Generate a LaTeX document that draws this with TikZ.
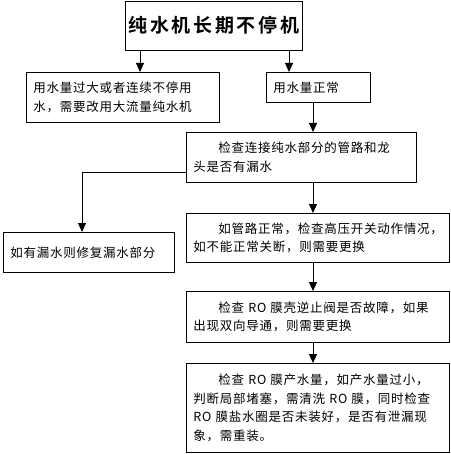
\documentclass[tikz,border=0pt]{standalone}
\usepackage{fontspec}
\usepackage{tikz}
\usetikzlibrary{arrows.meta}

\newfontfamily\cjk[LetterSpace=6]{Noto Sans CJK SC}
\newfontfamily\cjktitle[LetterSpace=14]{Noto Sans CJK SC Bold}

\tikzset{
  box/.style={draw, line width=0.9pt, anchor=north west, inner xsep=7pt, inner ysep=5pt,
    align=left, font=\cjk\fontsize{12.5}{18.5}\selectfont},
  arr/.style={line width=0.9pt, -{Triangle[length=9pt, width=8pt]}}
}

\begin{document}
\begin{tikzpicture}[x=1pt, y=-1pt]
    \useasboundingbox (0,0) rectangle (450,454);

    \node[draw, line width=0.9pt, minimum width=172pt, minimum height=49pt,
          font=\cjktitle\fontsize{19}{22}\selectfont] at (214,25.5) (title) {纯水机长期不停机};
    \node[box, minimum width=193pt, minimum height=50pt, text width=179pt] at (26,72) (big)
        {用水量过大或者连续不停用\\水，需要改用大流量纯水机};
    \node[box, minimum width=104pt, minimum height=30pt, text width=90pt] at (266,72) (normal)
        {用水量正常};
    \node[box, minimum width=230pt, minimum height=50pt, text width=216pt] at (186,132) (pipe)
        {\hspace*{25pt}检查连接纯水部分的管路和龙\\头是否有漏水};
    \node[box, minimum width=171pt, minimum height=40pt, text width=157pt] at (3,232) (leak)
        {如有漏水则修复漏水部分};
    \node[box, minimum width=263pt, minimum height=49pt, text width=249pt] at (186,213) (hv)
        {\hspace*{25pt}如管路正常，检查高压开关动作情况，\\如不能正常关断，则需要更换};
    \node[box, minimum width=263pt, minimum height=51pt, text width=249pt] at (186,291) (valve)
        {\hspace*{25pt}检查~RO~膜壳逆止阀是否故障，如果\\出现双向导通，则需要更换};
    \node[box, minimum width=263pt, minimum height=89pt, text width=249pt] at (186,363) (membrane)
        {\hspace*{25pt}检查~RO~膜产水量，如产水量过小，\\判断局部堵塞，需清洗~RO~膜，同时检查\\RO~膜盐水圈是否未装好，是否有泄漏现\\象，需重装。};

    % branch points
    \coordinate (bl) at (140,0);
    \coordinate (br) at (289,0);
    \coordinate (sp) at (313,0);
    \coordinate (lk) at (82,172);

    % edges
    \draw[arr] (title.south -| bl) -- (big.north -| bl);
    \draw[arr] (title.south -| br) -- (normal.north -| br);
    \draw[arr] (normal.south -| sp) -- (pipe.north -| sp);
    \draw[arr] (pipe.south -| sp) -- (hv.north -| sp);
    \draw[arr] (hv.south -| sp) -- (valve.north -| sp);
    \draw[arr] (valve.south -| sp) -- (membrane.north -| sp);
    \draw[arr] (pipe.west |- lk) -| (leak.north -| lk);
\end{tikzpicture}
\end{document}
